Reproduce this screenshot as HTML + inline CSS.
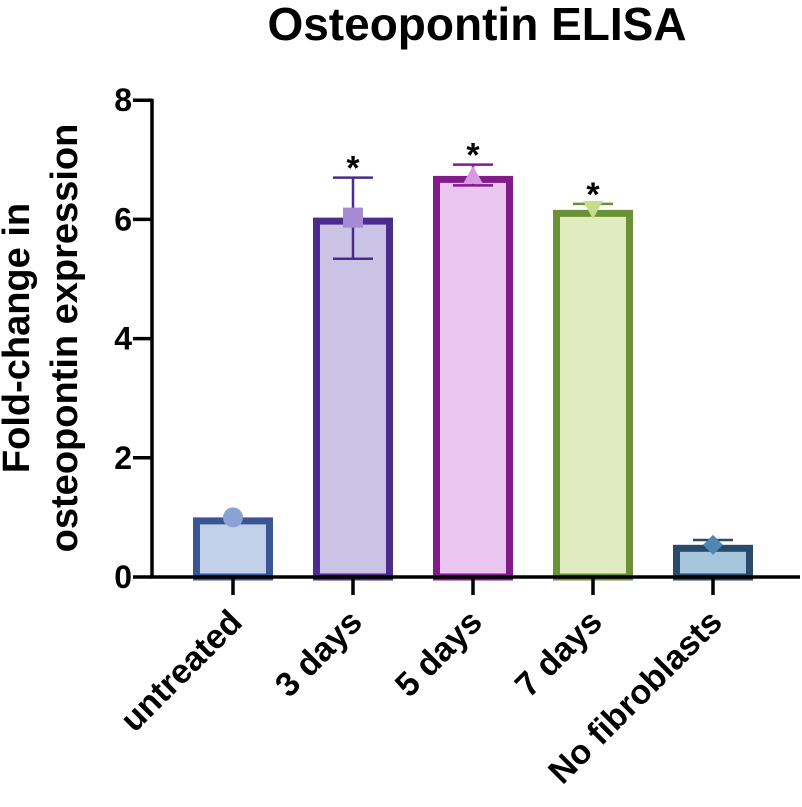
<!DOCTYPE html>
<html><head><meta charset="utf-8"><style>
body{margin:0;background:#fff;width:802px;height:802px;overflow:hidden}
svg text{font-family:"Liberation Sans",Arial,sans-serif;font-weight:bold}
</style></head><body>
<svg id="chart" width="802" height="802">
<text x="477" y="40" text-anchor="middle" font-size="46">Osteopontin ELISA</text>
<g transform="translate(29,338) rotate(-90)">
<text x="0" y="0" text-anchor="middle" font-size="38">Fold-change in</text>
<text x="0" y="48" text-anchor="middle" font-size="38">osteopontin expression</text>
</g>
<g id="plot"></g>
</svg>
<script>
const categories=["untreated","3 days","5 days","7 days","No fibroblasts"];
const values=[1.0,6.03,6.73,6.16,0.54];
const errUp=[0,0.67,0.19,0.10,0.08];
const errDown=[0,0.69,0.16,0,0];
const yTicks=[0,2,4,6,8];
const strokes=["#3a5593","#4a2d8a","#811b8c","#6a9135","#2a4a6b"];
const fills=["#c3d0ea","#cbc3e6","#e9c5f0","#e0ecc0","#a5c6dc"];
const markers=["#8aa2d4","#a48bd4","#d898e4","#c6dc8c","#4f86b4"];
const shapes=["circle","square","triangle","tri-down","diamond"];
const stars=[false,true,true,true,false];
const NS="http://www.w3.org/2000/svg";
const g=document.getElementById('plot');
const X0=152,Y0=577,PX=59.6,XL=800;
const y=v=>Y0-v*PX;
const x=i=>233+i*120;
function el(t,a){const e=document.createElementNS(NS,t);for(const k in a)e.setAttribute(k,a[k]);g.appendChild(e);return e;}
categories.forEach((c,i)=>{
 const cx=x(i),top=y(values[i]);
 const b=el('rect',{x:cx-36.5,y:top+3.5,width:73,height:Y0-top-3.5,fill:fills[i],stroke:strokes[i],'stroke-width':7});
 
 
 if(errUp[i]>0){const e=el('path',{d:`M${cx},${y(values[i]+errUp[i])}V${top}M${cx-20},${y(values[i]+errUp[i])}H${cx+20}`,stroke:strokes[i],'stroke-width':2.5,fill:'none'});
  }
 if(errDown[i]>0){const e=el('path',{d:`M${cx},${top}V${y(values[i]-errDown[i])}M${cx-20},${y(values[i]-errDown[i])}H${cx+20}`,stroke:strokes[i],'stroke-width':2.5,fill:'none'});
  }
 let m,s=shapes[i];
 if(s==='circle')m=el('circle',{cx:cx,cy:top,r:10,fill:markers[i]});
 else if(s==='square')m=el('rect',{x:cx-10,y:top-10,width:20,height:20,fill:markers[i]});
 else if(s==='triangle')m=el('polygon',{points:`${cx},${top-10} ${cx-10},${top+8} ${cx+10},${top+8}`,fill:markers[i]});
 else if(s==='tri-down')m=el('polygon',{points:`${cx-10},${top-9} ${cx+10},${top-9} ${cx},${top+9}`,fill:markers[i]});
 else m=el('polygon',{points:`${cx},${top-10} ${cx+10},${top} ${cx},${top+10} ${cx-10},${top}`,fill:markers[i]});
 
 if(stars[i]){const t=el('text',{x:cx,y:y(values[i]+errUp[i])+2,'text-anchor':'middle','font-size':34});t.textContent='*';
  }
 const tk=el('line',{x1:cx,x2:cx,y1:Y0,y2:Y0+18,stroke:'#000','stroke-width':3.5});
 
 const lb=el('text',{transform:`translate(${cx+11},${Y0+47}) rotate(-45)`,'text-anchor':'end','font-size':34});
 lb.textContent=c;
 
});
const ya=el('line',{x1:X0,x2:X0,y1:y(8)-1.5,y2:Y0+1.5,stroke:'#000','stroke-width':3.5});

const xa=el('line',{x1:X0-1.5,x2:XL,y1:Y0,y2:Y0,stroke:'#000','stroke-width':3.5});

yTicks.forEach(v=>{
 const t=el('line',{x1:X0-19,x2:X0,y1:y(v),y2:y(v),stroke:'#000','stroke-width':3.5});
 
 const l=el('text',{x:X0-20,y:y(v)+11,'text-anchor':'end','font-size':32});l.textContent=v;
 
});
</script>
</body></html>
